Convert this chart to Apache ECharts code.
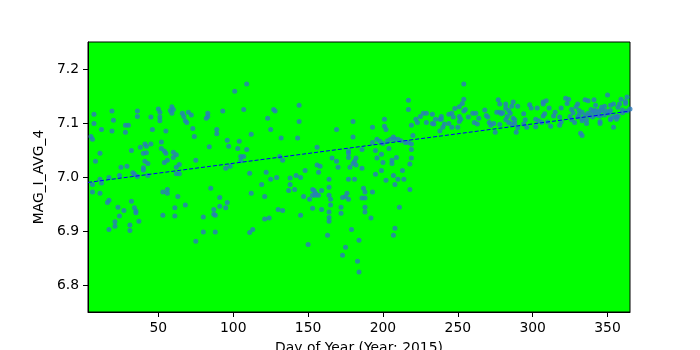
<!DOCTYPE html>
<html>
<head>
<meta charset="utf-8">
<script src="https://cdn.jsdelivr.net/npm/echarts@6/dist/echarts.min.js"></script>
<style>html,body{margin:0;padding:0;background:#fff;}#c{width:700px;height:350px;}</style>
</head>
<body>
<div id="c"></div>
<script>
// Day of year for each observation
const dayOfYear = [
5,6,7,7,8,6,6,11,11,11,12,12,19,20,19,17,17,16,23,24,21,21,17,25,24,27,28,30,28,29,32,32,31,31,34,35,35,33,34,36,36,36,37,38,40,41,42,42,40,40,41,43,43,45,46,45,
50,51,51,51,59,60,58,59,66,67,68,69,70,72,83,83,82,55,73,74,89,89,52,52,54,55,60,62,60,54,56,75,84,64,62,62,64,53,56,56,63,68,61,61,53,85,91,91,87,87,88,80,80,88,75,
109,101,93,107,127,128,123,125,112,132,96,104,97,103,109,105,107,105,131,133,95,98,111,122,125,129,138,138,137,119,112,121,96,95,130,133,121,124,113,111,
144,144,143,180,169,180,156,177,177,177,166,169,182,181,180,182,156,158,170,178,148,157,142,145,164,177,181,164,141,153,154,155,153,155,159,157,164,165,165,176,175,177,173,147,151,153,159,172,172,164,164,164,145,179,163,184,150,175,173,183,184,
217,217,201,193,201,202,219,222,223,225,227,229,229,220,207,205,203,208,210,212,196,198,193,200,215,217,219,219,186,204,195,199,209,196,200,206,206,219,218,186,199,213,195,207,210,214,202,208,218,187,188,186,188,193,188,188,211,192,208,207,
254,254,253,251,248,255,254,233,233,235,238,239,239,244,246,247,251,252,251,260,262,257,264,261,263,268,269,270,271,272,274,275,241,240,244,246,250,238,234,
277,278,282,282,287,286,290,298,299,303,307,309,307,311,315,319,276,278,279,280,284,285,283,294,308,307,314,282,284,287,288,295,302,304,306,310,318,319,286,288,294,302,290,289,296,312,318,278,
350,322,324,323,335,337,341,359,362,362,363,352,354,348,346,330,329,342,358,326,327,331,333,331,335,339,340,341,342,344,345,347,349,351,352,337,338,342,344,345,348,351,357,360,360,363,365,325,326,328,330,333,333,336,336,345,345,352,352,354,356,356,357,354,332,333,340
];
// MAG_I_AVG_4 value for each observation
const magIAvg4 = [
7.075,7.070,7.116,7.099,7.029,6.986,6.972,6.970,7.044,6.996,6.989,7.088,7.122,7.105,7.085,6.999,6.957,6.953,6.944,6.928,6.917,6.909,6.903,7.018,7.003,6.938,7.096,7.096,7.083,7.020,7.049,6.955,6.911,6.901,6.943,6.937,6.934,7.008,7.005,7.001,7.122,7.112,6.918,7.055,7.044,7.061,7.057,7.045,7.017,7.013,7.029,7.025,7.003,7.111,7.088,7.061,
7.126,7.120,7.111,7.104,7.130,7.125,7.123,7.118,7.118,7.112,7.104,7.101,7.120,7.115,7.118,7.112,7.109,7.085,7.090,7.075,7.088,7.080,7.065,7.053,7.048,7.044,7.046,7.041,7.036,7.027,7.031,7.031,7.056,7.023,7.018,7.006,7.006,6.972,6.977,6.970,6.964,6.948,6.943,6.928,6.929,6.979,6.962,6.946,6.940,6.931,6.929,6.926,6.898,6.898,6.881,
7.172,7.159,7.122,7.125,7.125,7.122,7.109,7.088,7.079,7.072,7.068,7.066,7.057,7.053,7.051,7.038,7.038,7.030,7.038,7.031,7.016,7.020,7.007,7.009,6.996,6.999,6.998,6.986,6.975,6.986,6.970,6.964,6.953,6.943,6.940,6.938,6.922,6.924,6.903,6.897,
7.133,7.103,7.072,7.103,7.088,7.074,7.055,7.048,7.044,7.036,7.035,7.029,7.035,7.029,7.025,7.022,7.022,7.020,7.018,7.018,7.012,7.009,7.003,6.999,6.996,6.996,6.996,6.981,6.977,6.977,6.975,6.970,6.966,6.966,6.975,6.966,6.966,6.959,6.948,6.970,6.964,6.959,6.962,6.964,6.959,6.942,6.940,6.944,6.933,6.935,6.925,6.918,6.929,6.903,6.892,6.883,6.875,6.870,6.855,6.844,6.824,
7.142,7.125,7.107,7.092,7.094,7.088,7.096,7.107,7.101,7.112,7.118,7.118,7.101,7.077,7.074,7.070,7.067,7.070,7.070,7.067,7.070,7.066,7.064,7.062,7.064,7.064,7.061,7.051,7.051,7.053,7.049,7.042,7.036,7.035,7.027,7.031,7.025,7.035,7.024,7.016,7.012,7.012,7.005,7.003,6.996,6.996,6.994,6.986,6.977,6.979,6.972,6.961,6.961,6.972,6.944,6.935,6.944,6.924,6.905,6.892,
7.172,7.144,7.136,7.130,7.127,7.125,7.122,7.116,7.099,7.107,7.107,7.112,7.107,7.116,7.118,7.111,7.112,7.107,7.103,7.118,7.118,7.111,7.109,7.101,7.098,7.124,7.114,7.111,7.101,7.096,7.099,7.083,7.098,7.092,7.099,7.092,7.092,7.085,7.098,
7.143,7.135,7.135,7.128,7.139,7.131,7.131,7.134,7.128,7.128,7.139,7.141,7.135,7.128,7.120,7.128,7.120,7.120,7.117,7.119,7.123,7.118,7.112,7.117,7.117,7.113,7.113,7.106,7.101,7.109,7.106,7.106,7.107,7.104,7.101,7.102,7.111,7.102,7.098,7.099,7.098,7.093,7.091,7.083,7.092,7.094,7.096,7.097,
7.152,7.146,7.144,7.136,7.143,7.141,7.143,7.144,7.140,7.136,7.148,7.133,7.135,7.131,7.129,7.135,7.130,7.133,7.135,7.125,7.119,7.123,7.120,7.115,7.115,7.125,7.120,7.122,7.123,7.120,7.123,7.123,7.122,7.120,7.123,7.118,7.114,7.115,7.114,7.113,7.115,7.118,7.129,7.124,7.119,7.122,7.126,7.112,7.106,7.101,7.111,7.108,7.104,7.106,7.099,7.103,7.099,7.108,7.106,7.111,7.112,7.107,7.112,7.092,7.081,7.077,7.111
];
// Trend line end points
const trendDays = [3, 365];
const trendValues = [6.990, 7.122];
// Tick labels
const xTicks = [50, 100, 150, 200, 250, 300, 350];
const yTicks = [6.8, 6.9, 7.0, 7.1, 7.2];

const points = dayOfYear.map((d, i) => [d, magIAvg4[i]]);
const trend = trendDays.map((d, i) => [d, trendValues[i]]);

const font = 'DejaVu Sans';
const chart = echarts.init(document.getElementById('c'), null, {renderer: 'canvas'});
chart.setOption({
  animation: false,
  backgroundColor: '#ffffff',
  grid: {left: 88, right: 70, top: 42, bottom: 38, containLabel: false, outerBoundsMode: 'none',
         show: true, backgroundColor: '#00ff00', borderColor: '#000', borderWidth: 1},
  xAxis: {
    type: 'value', min: 3, max: 365,
    name: 'Day of Year (Year: 2015)', nameLocation: 'middle', nameGap: 29,
    nameTextStyle: {fontFamily: font, fontSize: 13.9, color: '#000'},
    axisLine: {show: true, onZero: false, lineStyle: {color: '#000', width: 1}},
    axisTick: {show: true, inside: false, length: 5, customValues: xTicks, lineStyle: {color: '#000'}},
    axisLabel: {show: true, customValues: xTicks, margin: 9, fontFamily: font, fontSize: 13.9, color: '#000'},
    splitLine: {show: false}
  },
  yAxis: {
    type: 'value', min: 6.75, max: 7.25,
    name: 'MAG_I_AVG_4', nameLocation: 'middle', nameGap: 37,
    nameTextStyle: {fontFamily: font, fontSize: 13.9, color: '#000'},
    axisLine: {show: true, onZero: false, lineStyle: {color: '#000', width: 1}},
    axisTick: {show: true, inside: false, length: 5, customValues: yTicks, lineStyle: {color: '#000'}},
    axisLabel: {show: true, customValues: yTicks, margin: 9, fontFamily: font, fontSize: 13.9, color: '#000', formatter: v => v.toFixed(1)},
    splitLine: {show: false}
  },
  series: [
    {type: 'scatter', data: points, symbol: 'circle', symbolSize: 5, itemStyle: {color: '#2a7bbd'}, z: 2},
    {type: 'line', data: trend, symbol: 'none', lineStyle: {color: '#0000ff', width: 1, type: [4, 2]}, z: 3}
  ]
});
</script>
</body>
</html>
